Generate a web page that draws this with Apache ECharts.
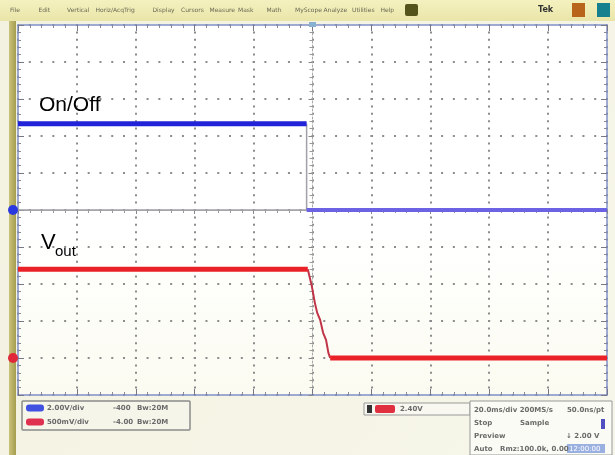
<!DOCTYPE html>
<html><head><meta charset="utf-8">
<script src="https://cdn.jsdelivr.net/npm/echarts/dist/echarts.min.js"></script>
<style>html,body{margin:0;padding:0;background:#f3f2e2;}#c{width:615px;height:455px;}</style>
</head><body><div id="c"></div><script>
// Values in screen divisions (10 x 10 graticule, channel ground on the centre line = 0)
const onOffHighT = [0, 4.9];
const onOffHighV = [2.33, 2.33];
const onOffEdgeT = [0, 4.9, 4.9];
const onOffEdgeV = [0, 0, 2.33];
const onOffLowT = [4.9, 10];
const onOffLowV = [0, 0];
const voutT = [0, 4.92, 4.99, 5.04, 5.08, 5.13, 5.18, 5.23, 5.27, 5.30, 10];
const voutV = [-1.6, -1.6, -2.07, -2.51, -2.78, -2.97, -3.32, -3.51, -3.86, -4.0, -4.0];
const menuItems = ['File','Edit','Vertical','Horiz/Acq','Trig','Display','Cursors','Measure','Mask','Math','MyScope','Analyze','Utilities','Help'];
const ch1Info = ['2.00V/div', '-400', 'Bw:20M'];
const ch2Info = ['500mV/div', '-4.00', 'Bw:20M'];
const trigInfo = '2.40V';
const acqInfo = [['20.0ms/div 200MS/s', '50.0ns/pt'], ['Stop', 'Sample'], ['Preview', '\u2193 2.00 V'], ['Auto', 'Rmz:100.0k, 0.00']];

const pts = (t, v) => t.map((x, i) => [x, v[i]]);
const vout = pts(voutT, voutV);

const G = {left: 18, top: 25, width: 589, height: 370};
const borderC = '#8090c8';
const baseAxis = {
  min: 0, max: 10, interval: 1,
  axisLabel: {show: false},
  axisLine: {show: true, onZero: false, lineStyle: {color: borderC, width: 1.5}},
  axisTick: {show: true, inside: true, length: 6, lineStyle: {color: '#777788'}},
  minorTick: {show: true, splitNumber: 5, length: 3, lineStyle: {color: '#888898'}},
  splitLine: {show: false}
};
const xs = Object.assign({}, baseAxis);
const ys = Object.assign({}, baseAxis, {min: -5, max: 5});

const chart = echarts.init(document.getElementById('c'), null, {renderer: 'canvas'});
const graphics = [];
graphics.push({type: 'rect', shape: {x: 0, y: 0, width: 615, height: 21}, style: {fill: new echarts.graphic.LinearGradient(0,0,0,1,[{offset:0,color:'#f4f1c0'},{offset:1,color:'#e9e5a8'}])}, z: -10});
menuItems.forEach((m, i) => graphics.push({type: 'text', x: 10 + i * 28.5, y: 10, style: {text: m, font: '6px "DejaVu Sans"', fill: '#6a6a55', textVerticalAlign: 'middle'}, z: -9}));
graphics.push({type: 'rect', shape: {x: 405, y: 4, width: 13, height: 12, r: 2}, style: {fill: '#55531c'}, z: -9});
graphics.push({type: 'text', x: 538, y: 10, style: {text: 'Tek', font: 'bold 8px "DejaVu Sans"', fill: '#333', textVerticalAlign: 'middle'}, z: -9});
graphics.push({type: 'rect', shape: {x: 572, y: 3, width: 13, height: 14}, style: {fill: '#b8641a'}, z: -9});
graphics.push({type: 'rect', shape: {x: 597, y: 3, width: 13, height: 14}, style: {fill: '#17808e'}, z: -9});
graphics.push({type: 'rect', shape: {x: 9, y: 21, width: 7, height: 434}, style: {fill: new echarts.graphic.LinearGradient(0,0,1,0,[{offset:0,color:'#c9c27a'},{offset:1,color:'#a49c4e'}])}, z: -9});
graphics.push({type: 'circle', shape: {cx: 13, cy: 210, r: 5}, style: {fill: '#2a38e0'}, z: 20});
graphics.push({type: 'circle', shape: {cx: 13, cy: 358, r: 5}, style: {fill: '#e0283a'}, z: 20});
graphics.push({type: 'rect', shape: {x: 309, y: 22, width: 7, height: 5}, style: {fill: '#8ab0d0'}, z: 20});
graphics.push({type: 'text', x: 39, y: 95, style: {text: 'On/Off', font: '21px "Liberation Sans"', fill: '#000', textVerticalAlign: 'top'}, z: 30});
graphics.push({type: 'text', x: 41, y: 232, style: {text: 'V', font: '22px "Liberation Sans"', fill: '#000', textVerticalAlign: 'top'}, z: 30});
graphics.push({type: 'text', x: 55, y: 244, style: {text: 'out', font: '15px "Liberation Sans"', fill: '#000', textVerticalAlign: 'top'}, z: 30});
const small = '7px "DejaVu Sans"';
graphics.push({type: 'rect', shape: {x: 22, y: 401, width: 168, height: 29, r: 1}, style: {fill: '#f6f5ea', stroke: '#8a8a8a', lineWidth: 1.5}, z: 5});
graphics.push({type: 'rect', shape: {x: 26, y: 404.5, width: 18, height: 7, r: 3}, style: {fill: '#4050e0'}, z: 6});
graphics.push({type: 'rect', shape: {x: 26, y: 418.5, width: 18, height: 7, r: 3}, style: {fill: '#e03050'}, z: 6});
[[ch1Info, 408], [ch2Info, 422]].forEach(([row, y]) => {
  [47, 113, 137].forEach((x, i) => graphics.push({type: 'text', x: x, y: y, style: {text: row[i], font: 'bold ' + small, fill: '#6a6a6a', textVerticalAlign: 'middle'}, z: 6}));
});
graphics.push({type: 'rect', shape: {x: 364, y: 403, width: 106, height: 12}, style: {fill: '#f8f8f0', stroke: '#999', lineWidth: 1}, z: 5});
graphics.push({type: 'rect', shape: {x: 367, y: 405, width: 5, height: 8}, style: {fill: '#333'}, z: 6});
graphics.push({type: 'rect', shape: {x: 375, y: 405, width: 20, height: 8, r: 2}, style: {fill: '#e03040'}, z: 6});
graphics.push({type: 'text', x: 400, y: 409, style: {text: trigInfo, font: 'bold ' + small, fill: '#6a6a6a', textVerticalAlign: 'middle'}, z: 6});
graphics.push({type: 'rect', shape: {x: 470, y: 401, width: 142, height: 54}, style: {fill: '#fbfbf5', stroke: '#999', lineWidth: 1}, z: 5});
graphics.push({type: 'rect', shape: {x: 601, y: 419, width: 4, height: 10}, style: {fill: '#5050c0'}, z: 6});
graphics.push({type: 'rect', shape: {x: 567, y: 444, width: 38, height: 9}, style: {fill: '#9ab0e0'}, z: 6});
acqInfo.forEach((row, r) => {
  const y = 410 + r * 13;
  graphics.push({type: 'text', x: 474, y: y, style: {text: row[0], font: 'bold ' + small, fill: '#6a6a6a', textVerticalAlign: 'middle'}, z: 7});
  const x2 = [567, 520, 566, 500][r];
  graphics.push({type: 'text', x: x2, y: y, style: {text: row[1], font: 'bold ' + small, fill: '#6a6a6a', textVerticalAlign: 'middle'}, z: 7});
});
graphics.push({type: 'text', x: 569, y: 449, style: {text: '12:00:00', font: small, fill: '#fff', textVerticalAlign: 'middle'}, z: 7});

chart.setOption({
  animation: false,
  backgroundColor: new echarts.graphic.LinearGradient(0,0,1,1,[{offset:0,color:'#f3f2e0'},{offset:1,color:'#f6f6ea'}]),
  grid: [
    Object.assign({show: true, backgroundColor: new echarts.graphic.LinearGradient(0,0,0,1,[{offset:0,color:'#ffffff'},{offset:0.55,color:'#ffffff'},{offset:1,color:'#fbfbf1'}]), borderWidth: 0}, G),
    Object.assign({}, G)
  ],
  xAxis: [
    Object.assign({}, xs, {type: 'value', gridIndex: 0, position: 'bottom',
      splitLine: {show: true, lineStyle: {color: '#8c8c8c', width: 2, type: [2, 5.4], dashOffset: 1}}}),
    Object.assign({}, xs, {type: 'value', gridIndex: 0, position: 'top'}),
    Object.assign({}, xs, {type: 'value', gridIndex: 1, min: -5, max: 5, position: 'bottom',
      axisLine: {show: true, onZero: true, lineStyle: {color: '#b0b0b0', width: 1}},
      axisTick: {show: true, inside: false, length: 4, lineStyle: {color: '#888'}},
      minorTick: {show: true, splitNumber: 5, length: 3, lineStyle: {color: '#999'}}})
  ],
  yAxis: [
    Object.assign({}, ys, {type: 'value', gridIndex: 0, position: 'left',
      splitLine: {show: true, lineStyle: {color: '#8c8c8c', width: 2, type: [2, 9.78], dashOffset: 1}}}),
    Object.assign({}, ys, {type: 'value', gridIndex: 0, position: 'right'}),
    Object.assign({}, ys, {type: 'value', gridIndex: 1, min: -5, max: 5, position: 'left',
      axisLine: {show: true, onZero: true, lineStyle: {color: '#a8a8a8', width: 1, type: [2, 2]}},
      axisTick: {show: true, inside: false, length: 4, lineStyle: {color: '#888'}},
      minorTick: {show: true, splitNumber: 5, length: 3, lineStyle: {color: '#999'}}})
  ],
  graphic: graphics,
  series: [
    {type: 'line', name: 'edge', data: pts(onOffEdgeT, onOffEdgeV), showSymbol: false, lineStyle: {color: '#a0a0a8', width: 1.5}, z: 3},
    {type: 'line', name: 'On/Off', data: pts(onOffHighT, onOffHighV), showSymbol: false, lineStyle: {color: '#2222d8', width: 5}, z: 4},
    {type: 'line', name: 'On/Off low', data: pts(onOffLowT, onOffLowV), showSymbol: false, lineStyle: {color: '#6b63e4', width: 4}, z: 4},
    {type: 'line', name: 'Vout fall', data: vout.slice(1, 10), showSymbol: false, lineStyle: {color: '#c03448', width: 2}, z: 3},
    {type: 'line', name: 'Vout', data: vout.slice(0, 2), showSymbol: false, lineStyle: {color: '#ea2228', width: 5}, z: 4},
    {type: 'line', name: 'Vout low', data: vout.slice(9), showSymbol: false, lineStyle: {color: '#ea2228', width: 5}, z: 4}
  ]
});
</script></body></html>
